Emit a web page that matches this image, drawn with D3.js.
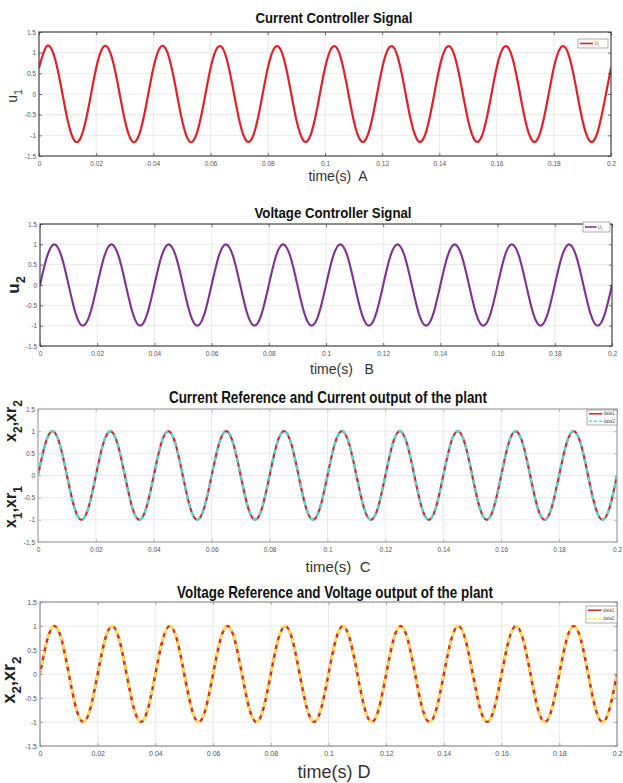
<!DOCTYPE html>
<html><head><meta charset="utf-8">
<script src="https://cdn.jsdelivr.net/npm/d3@7"></script>
<style>body{margin:0;background:#fff}svg{display:block}</style>
</head><body><svg id="c" width="623" height="783"></svg>
<script>
// ---------------- data ----------------
const time = [0,.0025,.005,.0075,.01,.0125,.015,.0175,
 .02,.0225,.025,.0275,.03,.0325,.035,.0375,
 .04,.0425,.045,.0475,.05,.0525,.055,.0575,
 .06,.0625,.065,.0675,.07,.0725,.075,.0775,
 .08,.0825,.085,.0875,.09,.0925,.095,.0975,
 .1,.1025,.105,.1075,.11,.1125,.115,.1175,
 .12,.1225,.125,.1275,.13,.1325,.135,.1375,
 .14,.1425,.145,.1475,.15,.1525,.155,.1575,
 .16,.1625,.165,.1675,.17,.1725,.175,.1775,
 .18,.1825,.185,.1875,.19,.1925,.195,.1975,
 .2];
const u1 = [0.63,1.14,0.99,0.26,-0.63,-1.14,-0.99,-0.26,
 0.63,1.14,0.99,0.26,-0.63,-1.14,-0.99,-0.26,
 0.63,1.14,0.99,0.26,-0.63,-1.14,-0.99,-0.26,
 0.63,1.13,0.99,0.26,-0.63,-1.13,-0.99,-0.26,
 0.63,1.13,0.99,0.26,-0.63,-1.13,-0.99,-0.26,
 0.63,1.13,0.99,0.26,-0.63,-1.13,-0.99,-0.26,
 0.63,1.13,0.99,0.26,-0.63,-1.13,-0.99,-0.26,
 0.63,1.13,0.99,0.26,-0.63,-1.13,-0.99,-0.26,
 0.63,1.13,0.99,0.26,-0.63,-1.13,-0.99,-0.26,
 0.63,1.13,0.99,0.26,-0.63,-1.13,-0.99,-0.26,
 0.63];
const u2 = [0,0.71,1,0.71,0,-0.71,-1,-0.71,
 0,0.71,1,0.71,0,-0.71,-1,-0.71,
 0,0.71,1,0.71,0,-0.71,-1,-0.71,
 0,0.71,1,0.71,0,-0.71,-1,-0.71,
 0,0.71,1,0.71,0,-0.71,-1,-0.71,
 0,0.71,1,0.71,0,-0.71,-1,-0.71,
 0,0.71,1,0.71,0,-0.71,-1,-0.71,
 0,0.71,1,0.71,0,-0.71,-1,-0.71,
 0,0.71,1,0.71,0,-0.71,-1,-0.71,
 0,0.71,1,0.71,0,-0.71,-1,-0.71,
 0];
const x1 = u2.slice();   // data1 (panel C) — same readings as the sinusoid above
const xr1 = u2.slice();  // data2 (panel C)
const x2 = u2.slice();   // data1 (panel D)
const xr2 = u2.slice();  // data2 (panel D)

const xTicks = [0,0.02,0.04,0.06,0.08,0.1,0.12,0.14,0.16,0.18,0.2];
const xTickLabels = ["0","0.02","0.04","0.06","0.08","0.1","0.12","0.14","0.16","0.18","0.2"];
const yTicks = [-1.5,-1,-0.5,0,0.5,1,1.5];
const yTickLabels = ["-1.5","-1","-0.5","0","0.5","1","1.5"];

const titles = ["Current Controller Signal","Voltage Controller Signal",
  "Current Reference and Current output of the plant","Voltage Reference and Voltage output of the plant"];
const xLabels = ["time(s)  A","time(s)   B","time(s)  C","time(s) D"];

// ---------------- layout ----------------
const svg = d3.select("#c");
const FONT = "'Liberation Sans', Arial, sans-serif";

const panels = [
 {t:32,b:156,l:39,r:611, titleY:23,titleX:334,titleW:157,titleSize:15,
  xlabY:181,xlabX:338,xlabSize:14, tickSize:6.5, boxColor:"#3a3a3a",
  series:[{v:u1,color:"#e3202a",w:2.2}],
  legend:{x:578,y:39,w:30,h:9,items:[{name:"U\u2081",color:"#e3202a",dash:null}]},
  ylab:[{x:17,y:96,main:"u",sub:"1",size:14,weight:"normal",color:"#333"}]},
 {t:224,b:346,l:40,r:612, titleY:218,titleX:333,titleW:157,titleSize:15,
  xlabY:374,xlabX:342,xlabSize:14, tickSize:6.5, boxColor:"#3a3a3a",
  series:[{v:u2,color:"#7f3290",w:2.1}],
  legend:{x:583,y:222,w:27,h:10,items:[{name:"U\u2082",color:"#7f3290",dash:null}]},
  ylab:[{x:19,y:285,main:"u",sub:"2",size:17,weight:"bold",color:"#222"}]},
 {t:409,b:542,l:38,r:617, titleY:403,titleX:328,titleW:318,titleSize:16,
  xlabY:572,xlabX:338,xlabSize:15, tickSize:6.5, boxColor:"#a0a0a0",
  series:[{v:x1,color:"#d6262d",w:2.2},{v:xr1,color:"#48e0d4",w:2.2,dash:"5,4"}],
  legend:{x:587,y:410,w:30,h:15,items:[{name:"data1",color:"#d6262d",dash:null},{name:"data2",color:"#48e0d4",dash:"3,2"}]},
  ylab:[{x:16,y:507,main:"x",sub:"1",main2:",xr",sub2:"1",size:16,weight:"bold",color:"#222"},
        {x:16,y:421,main:"x",sub:"2",main2:",xr",sub2:"2",size:16,weight:"bold",color:"#222"}]},
 {t:602,b:746,l:40,r:617, titleY:598,titleX:335,titleW:316,titleSize:17,
  xlabY:778,xlabX:334,xlabSize:18, tickSize:7, boxColor:"#8a8a8a",
  series:[{v:x2,color:"#d92a2a",w:2.5},{v:xr2,color:"#fbe94a",w:2.5,dash:"5,4"}],
  legend:{x:586,y:606,w:31,h:17,items:[{name:"data1",color:"#d92a2a",dash:null},{name:"data2",color:"#fbe94a",dash:"3,2"}]},
  ylab:[{x:15,y:680,main:"x",sub:"2",main2:",xr",sub2:"2",size:18,weight:"bold",color:"#222"}]}
];

panels.forEach((cfg, pi) => {
  const x = d3.scaleLinear().domain([0,0.2]).range([cfg.l, cfg.r]);
  const y = d3.scaleLinear().domain([-1.5,1.5]).range([cfg.b, cfg.t]);
  const g = svg.append("g");
  const clipId = "clip" + pi;
  svg.append("clipPath").attr("id", clipId).append("rect")
    .attr("x", cfg.l).attr("y", cfg.t).attr("width", cfg.r - cfg.l).attr("height", cfg.b - cfg.t);

  // grid
  g.append("g").selectAll("line").data(xTicks).join("line")
    .attr("x1", d => x(d)).attr("x2", d => x(d)).attr("y1", cfg.t).attr("y2", cfg.b)
    .attr("stroke", "#e4e4e4").attr("stroke-width", 0.8);
  g.append("g").selectAll("line").data(yTicks).join("line")
    .attr("y1", d => y(d)).attr("y2", d => y(d)).attr("x1", cfg.l).attr("x2", cfg.r)
    .attr("stroke", "#e4e4e4").attr("stroke-width", 0.8);

  // series
  const line = d3.line().x((d, i) => x(time[i])).y(d => y(d)).curve(d3.curveNatural);
  cfg.series.forEach(s => {
    g.append("path").attr("d", line(s.v)).attr("fill", "none")
      .attr("stroke", s.color).attr("stroke-width", s.w)
      .attr("stroke-dasharray", s.dash || null)
      .attr("clip-path", `url(#${clipId})`);
  });

  // axes
  const ax = d3.axisBottom(x).tickValues(xTicks).tickFormat((d, i) => xTickLabels[i])
    .tickSizeInner(-3).tickSizeOuter(0).tickPadding(5);
  const ay = d3.axisLeft(y).tickValues(yTicks).tickFormat((d, i) => yTickLabels[i])
    .tickSizeInner(-3).tickSizeOuter(0).tickPadding(3);
  const axT = d3.axisTop(x).tickValues(xTicks).tickFormat("").tickSizeInner(-3).tickSizeOuter(0);
  const ayR = d3.axisRight(y).tickValues(yTicks).tickFormat("").tickSizeInner(-3).tickSizeOuter(0);
  [[ax, `translate(0,${cfg.b})`], [ay, `translate(${cfg.l},0)`],
   [axT, `translate(0,${cfg.t})`], [ayR, `translate(${cfg.r},0)`]].forEach(([a, tr]) => {
    const ga = g.append("g").attr("transform", tr).call(a);
    ga.select(".domain").remove();
    ga.selectAll("line").attr("stroke", cfg.boxColor).attr("stroke-width", 0.7);
    ga.selectAll("text").attr("font-size", cfg.tickSize).attr("font-family", FONT).attr("fill", "#555");
  });

  // box
  g.append("rect").attr("x", cfg.l).attr("y", cfg.t).attr("width", cfg.r - cfg.l).attr("height", cfg.b - cfg.t)
    .attr("fill", "none").attr("stroke", cfg.boxColor).attr("stroke-width", 1.1);

  // title
  g.append("text").attr("x", cfg.titleX).attr("y", cfg.titleY).attr("text-anchor", "middle")
    .attr("font-family", FONT).attr("font-weight", "bold").attr("font-size", cfg.titleSize)
    .attr("textLength", cfg.titleW).attr("lengthAdjust", "spacingAndGlyphs")
    .attr("fill", "#111").text(titles[pi]);

  // x label
  g.append("text").attr("x", cfg.xlabX).attr("y", cfg.xlabY).attr("text-anchor", "middle")
    .attr("font-family", FONT).attr("font-size", cfg.xlabSize).attr("fill", "#333")
    .style("white-space", "pre").attr("xml:space", "preserve").text(xLabels[pi]);

  // y labels
  cfg.ylab.forEach(yl => {
    const t = g.append("text").attr("transform", `translate(${yl.x},${yl.y}) rotate(-90)`)
      .attr("text-anchor", "middle").attr("font-family", FONT).attr("font-size", yl.size)
      .attr("font-weight", yl.weight).attr("fill", yl.color);
    t.append("tspan").text(yl.main);
    t.append("tspan").attr("dy", yl.size * 0.35).attr("font-size", yl.size * 0.75).text(yl.sub);
    if (yl.main2) {
      t.append("tspan").attr("dy", -yl.size * 0.35).text(yl.main2);
      t.append("tspan").attr("dy", yl.size * 0.35).attr("font-size", yl.size * 0.75).text(yl.sub2);
    }
  });

  // legend
  const L = cfg.legend;
  const lg = g.append("g");
  lg.append("rect").attr("x", L.x).attr("y", L.y).attr("width", L.w).attr("height", L.h)
    .attr("fill", "#fff").attr("stroke", "#777").attr("stroke-width", 0.6);
  const n = L.items.length;
  L.items.forEach((it, i) => {
    const cy = L.y + L.h * (i + 0.5) / n;
    lg.append("line").attr("x1", L.x + 2).attr("x2", L.x + L.w * 0.5).attr("y1", cy).attr("y2", cy)
      .attr("stroke", it.color).attr("stroke-width", 1.6).attr("stroke-dasharray", it.dash);
    lg.append("text").attr("x", L.x + L.w * 0.55).attr("y", cy + 1.6).attr("font-size", 4.5)
      .attr("font-family", FONT).attr("fill", "#555").text(it.name);
  });
});
</script></body></html>
